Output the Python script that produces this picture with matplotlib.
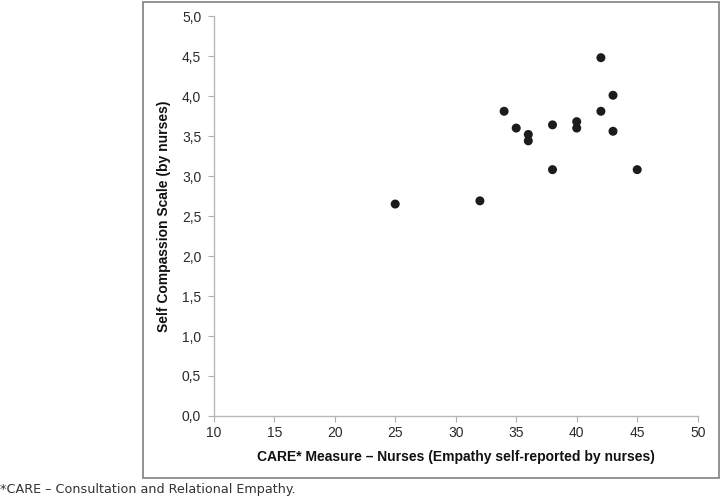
import matplotlib
matplotlib.use("Agg")
import matplotlib.pyplot as plt
from matplotlib.patches import Rectangle

# CARE measure (x) vs self compassion scale (y), nurses
care = [25, 32, 34, 35, 36, 36, 38, 38, 40, 40, 42, 42, 43, 43, 45]
compassion = [2.65, 2.69, 3.81, 3.60, 3.52, 3.44, 3.64, 3.08, 3.68, 3.60, 4.48, 3.81, 4.01, 3.56, 3.08]

xticks = [10, 15, 20, 25, 30, 35, 40, 45, 50]
yticks = [0.0, 0.5, 1.0, 1.5, 2.0, 2.5, 3.0, 3.5, 4.0, 4.5, 5.0]

plt.rcParams['font.family'] = ['Liberation Sans', 'DejaVu Sans']

fig = plt.figure(figsize=(7.21, 5.03), dpi=100)
ax = fig.add_axes([0.2964, 0.173, 0.6713, 0.795])

ax.scatter(care, compassion, s=42, color='#1c1c1c', edgecolors='none', zorder=3)

ax.set_xlim(10, 50)
ax.set_ylim(0, 5)
ax.set_xticks(xticks)
ax.set_yticks(yticks)
ax.set_yticklabels([f"{v:.1f}".replace('.', ',') for v in yticks])
ax.tick_params(axis='both', colors='#b0b0b0', labelcolor='#2a2a2a', labelsize=10,
               length=4, width=0.8)
ax.tick_params(axis='y', pad=5)

for side in ['top', 'right']:
    ax.spines[side].set_visible(False)
for side in ['left', 'bottom']:
    ax.spines[side].set_color('#b8b8b8')
    ax.spines[side].set_linewidth(1.0)

ax.set_xlabel("CARE* Measure \u2013 Nurses (Empathy self-reported by nurses)",
              fontsize=10, fontweight='bold', color='#111111', labelpad=7)
ax.set_ylabel("Self Compassion Scale (by nurses)",
              fontsize=10, fontweight='bold', color='#111111', labelpad=8)

# outer frame around the chart
fig.patches.append(Rectangle((143 / 721, 1 - 478 / 503), (719 - 143) / 721, (478 - 2) / 503,
                             transform=fig.transFigure, fill=False,
                             edgecolor='#8a8a8a', linewidth=1.3))

fig.text(0.0, 1 - 490 / 503, "*CARE \u2013 Consultation and Relational Empathy.",
         fontsize=9.2, family='DejaVu Sans', color='#333333', va='center', ha='left')

fig.savefig("out.png", dpi=100)
